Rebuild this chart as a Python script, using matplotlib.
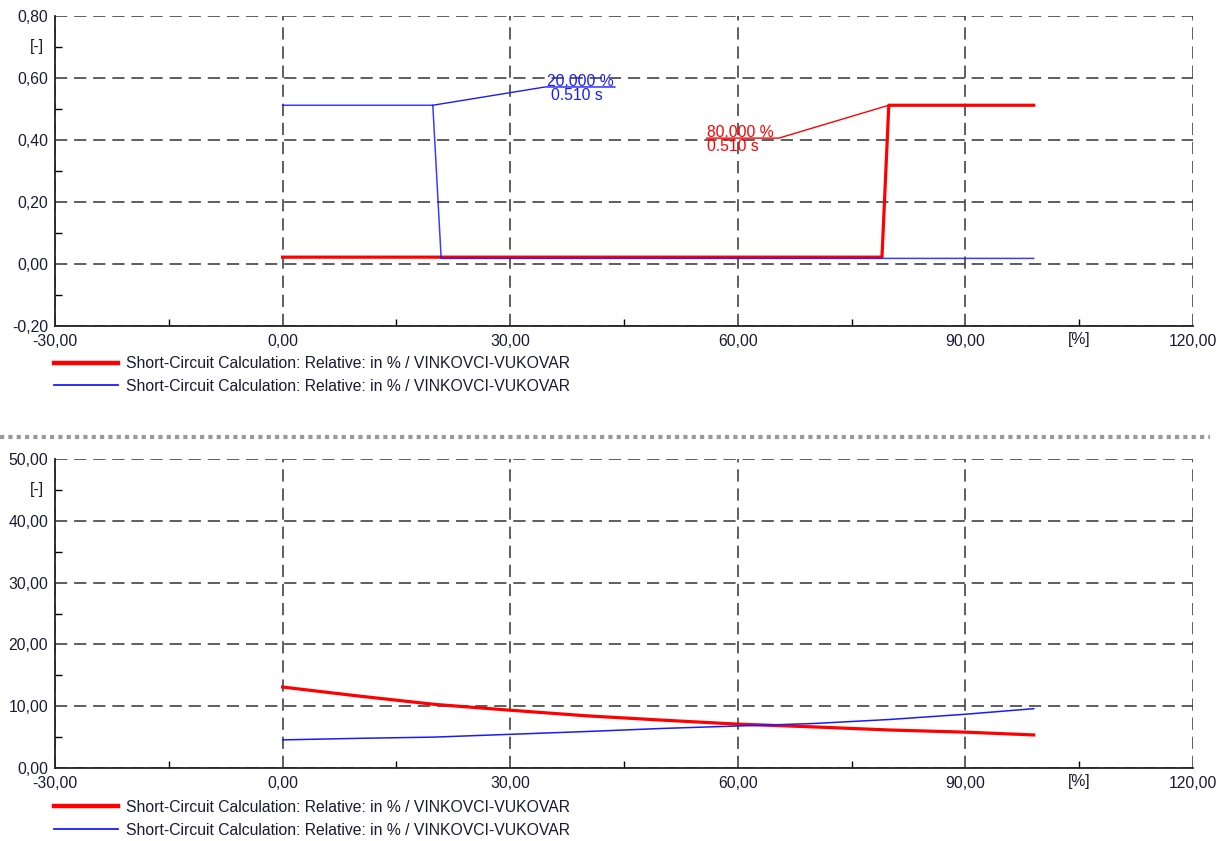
import matplotlib
matplotlib.use('Agg')
import matplotlib.pyplot as plt
from matplotlib.lines import Line2D
from matplotlib.ticker import MultipleLocator, FuncFormatter

# top chart: tripping time [s] vs fault location [%]
top_red_x = [0, 79.0, 79.9, 99]
top_red_y = [0.022, 0.022, 0.512, 0.512]
top_blue_x = [0, 19.8, 20.9, 99]
top_blue_y = [0.512, 0.512, 0.018, 0.018]

# bottom chart: relative impedance vs fault location [%]
bot_x = [0, 10, 20, 30, 40, 50, 60, 70, 80, 90, 99]
bot_red_y = [13.1, 11.65, 10.3, 9.35, 8.45, 7.75, 7.1, 6.65, 6.15, 5.8, 5.35]
bot_blue_y = [4.55, 4.8, 5.0, 5.45, 5.9, 6.4, 6.8, 7.2, 7.85, 8.7, 9.6]

# annotated points (location %, time s)
mark_blue = (20.0, 0.510)
mark_red = (80.0, 0.510)

label = 'Short-Circuit Calculation: Relative: in % / VINKOVCI-VUKOVAR'
RED = '#ff0000'
BLUE = '#1a1aff'
TXT = '#1a1a33'
FS = 11.3

plt.rcParams['font.family'] = ['Liberation Sans', 'DejaVu Sans']
plt.rcParams['font.size'] = FS


def comma(v, pos=None):
    return '{0:.2f}'.format(v).replace('.', ',')


def setup_axes(ax, ymin, ymax, ystep, ylab_pos):
    ax.set_xlim(-30, 120)
    ax.set_ylim(ymin, ymax)
    ax.xaxis.set_major_locator(MultipleLocator(30))
    ax.xaxis.set_minor_locator(MultipleLocator(15))
    ax.yaxis.set_major_locator(MultipleLocator(ystep))
    ax.yaxis.set_minor_locator(MultipleLocator(ystep / 2))
    ax.xaxis.set_major_formatter(FuncFormatter(comma))
    ax.yaxis.set_major_formatter(FuncFormatter(comma))
    ax.tick_params(which='major', length=0, pad=5, labelcolor=TXT, labelsize=FS)
    ax.tick_params(which='minor', direction='in', length=5, width=1)
    ax.tick_params(axis='x', which='major', pad=6)
    for s in ['top', 'right']:
        ax.spines[s].set_visible(False)
    for s in ['left', 'bottom']:
        ax.spines[s].set_linewidth(1.3)
        ax.spines[s].set_color('#222222')
    ax.grid(True, which='major', color='#333333', linestyle=(0, (8, 4.5)), linewidth=1.1)
    ax.set_axisbelow(True)
    # unit labels at minor positions
    ax.text(-31.5, ylab_pos, '[-]', ha='right', va='center', color=TXT, fontsize=FS)
    ax.text(105, ymin - (ymax - ymin) * 0.018, '[%]', ha='center', va='top', color=TXT,
            fontsize=FS)


def main():
    fig = plt.figure(figsize=(12.19, 8.41), dpi=100)
    ax1 = fig.add_axes([0.0451, 0.6124, 0.9336, 0.3686])
    ax2 = fig.add_axes([0.0451, 0.0868, 0.9336, 0.3674])
    ax1.patch.set_alpha(0)
    ax2.patch.set_alpha(0)

    setup_axes(ax1, -0.2, 0.8, 0.2, 0.7)
    setup_axes(ax2, 0, 50, 10, 45)

    ax1.plot(top_red_x, top_red_y, color=RED, linewidth=2.3, label=label)
    ax1.plot(top_blue_x, top_blue_y, color=BLUE, linewidth=1.1, alpha=0.85, label=label)

    # blue annotation
    bx, by = 34.6, 0.571
    ax1.plot([mark_blue[0] - 0.2, bx, 43.8], [mark_blue[1] + 0.002, by, by], color=BLUE, linewidth=1)
    ax1.text(34.8, by - 0.006, '{0:.3f} %'.format(mark_blue[0]), color=BLUE, ha='left', va='bottom',
             fontsize=FS)
    ax1.text(35.4, by - 0.002, '{0:.3f} s'.format(mark_blue[1]), color=BLUE, ha='left', va='top',
             fontsize=FS)

    # red annotation
    rx, ry = 65.4, 0.406
    ax1.plot([mark_red[0] - 0.1, rx, 55.9], [mark_red[1] + 0.002, ry, ry], color=RED, linewidth=1)
    ax1.text(55.9, ry - 0.006, '{0:.3f} %'.format(mark_red[0]), color=RED, ha='left', va='bottom',
             fontsize=FS)
    ax1.text(55.9, ry - 0.002, '{0:.3f} s'.format(mark_red[1]), color=RED, ha='left', va='top',
             fontsize=FS)

    ax2.plot(bot_x, bot_red_y, color=RED, linewidth=2.3, label=label)
    ax2.plot(bot_x, bot_blue_y, color=BLUE, linewidth=1.1, label=label)

    for ax, y0 in [(ax1, 0.5767), (ax2, 0.0488)]:
        h, l = ax.get_legend_handles_labels()
        h = [Line2D([], [], color=RED, linewidth=3.2), Line2D([], [], color=BLUE, linewidth=1.3)]
        fig.legend(h, l, loc='upper left', bbox_to_anchor=(0.0443, y0), frameon=False,
                   handlelength=4.1, handletextpad=0.5, labelspacing=0.5, borderaxespad=0,
                   borderpad=0, fontsize=FS, labelcolor=TXT)

    # separator between the two plots
    fig.add_artist(Line2D([0.0, 0.993], [1 - 437 / 841, 1 - 437 / 841], color='#999999',
                          linewidth=3, linestyle=(0, (1, 1))))

    fig.savefig('out.png', dpi=100)
    plt.close()


if __name__ == '__main__':
    main()
